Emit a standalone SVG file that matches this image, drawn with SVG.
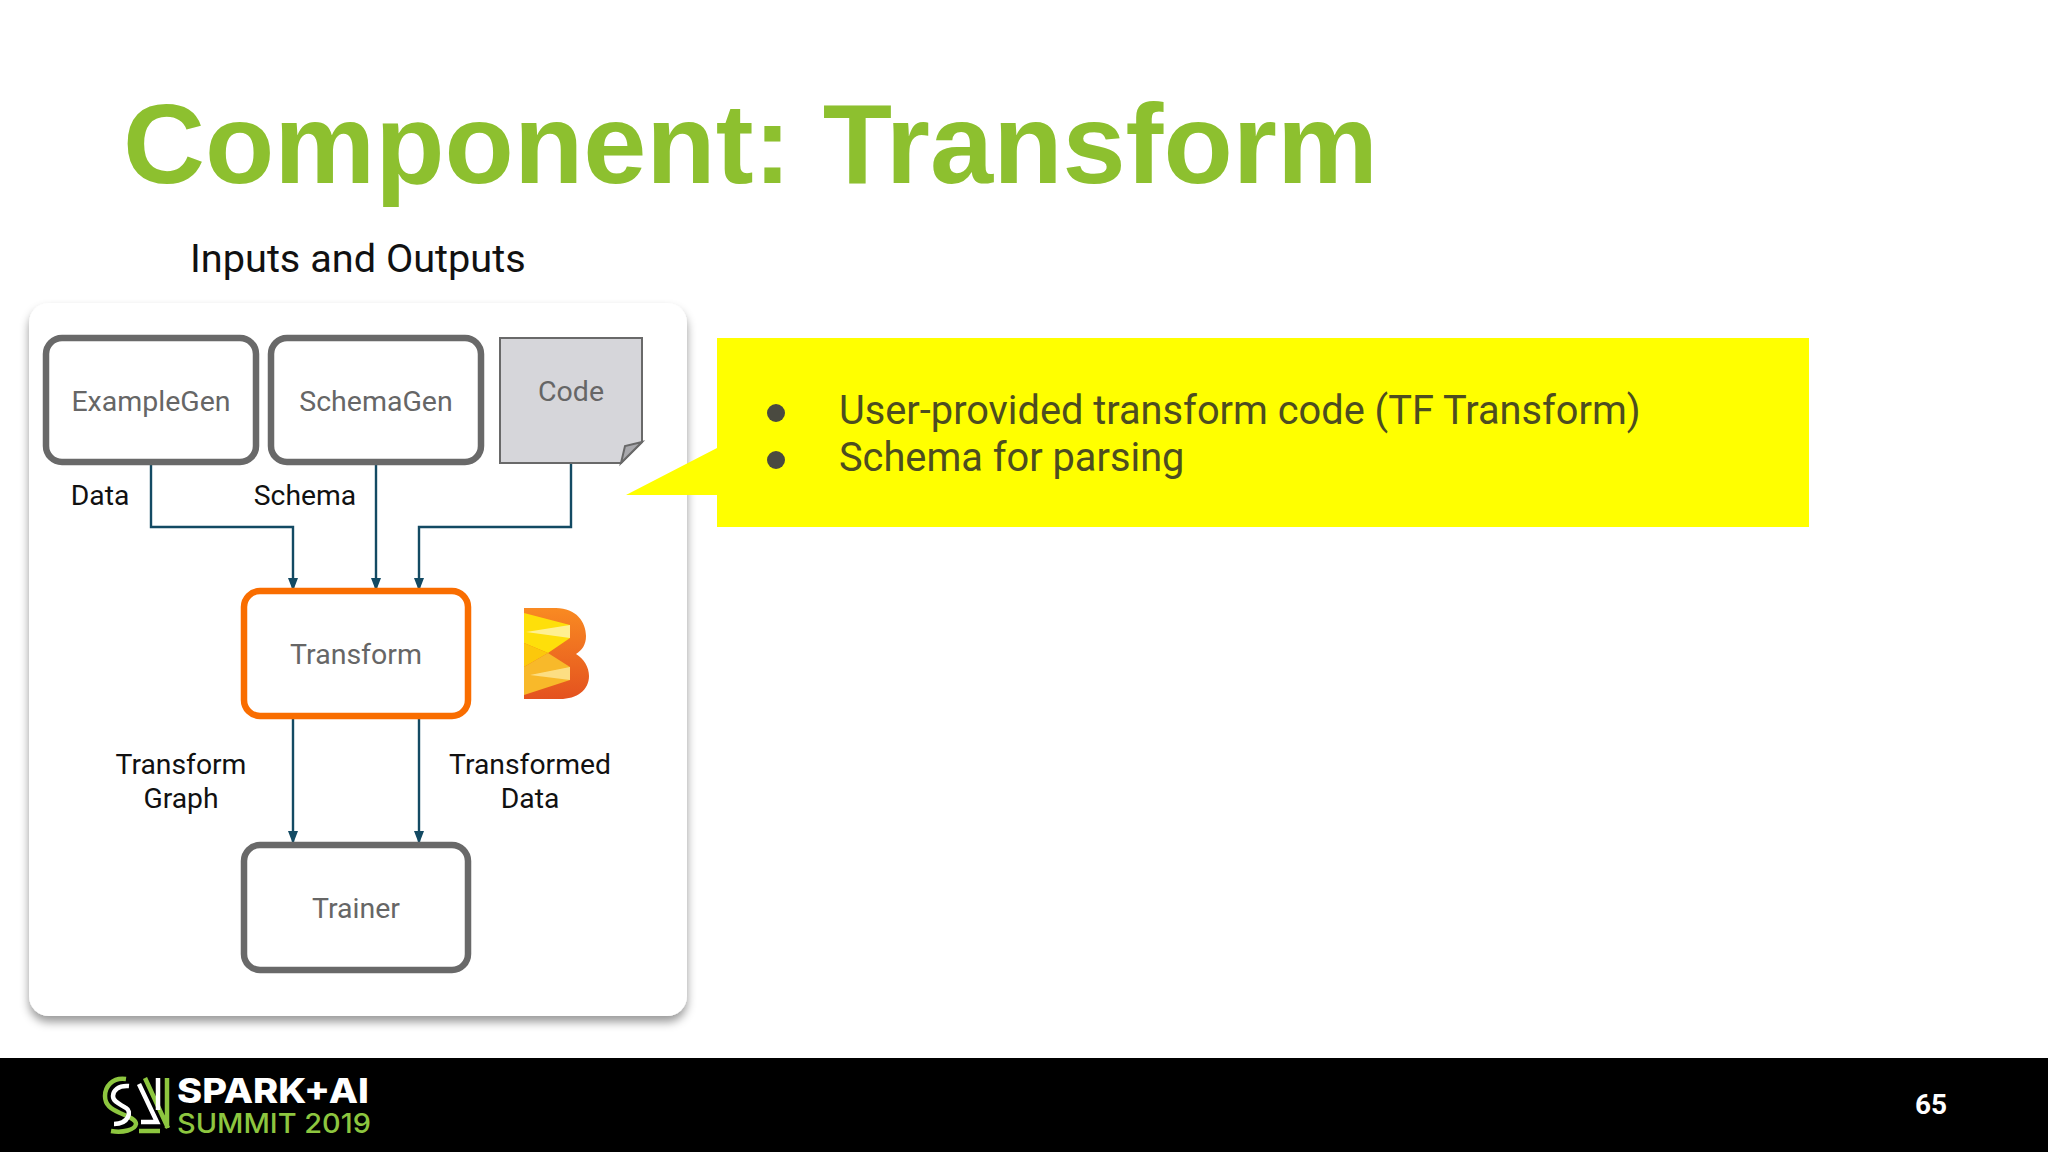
<svg xmlns="http://www.w3.org/2000/svg" width="2048" height="1152" viewBox="0 0 2048 1152">
<style>
text{font-family:Roboto,"Liberation Sans",sans-serif}
.box{fill:#fff;stroke:#696969;stroke-width:6.5}
.nl{font-size:28.5px;fill:#666;text-anchor:middle}
.lb{font-size:28.3px;fill:#111;text-anchor:middle}
.cn{fill:none;stroke:#134a63;stroke-width:2.4}
.logo{font-family:Inter,"Liberation Sans",sans-serif}
</style>
<defs>
<filter id="sh" x="-5%" y="-5%" width="110%" height="110%"><feDropShadow dx="0" dy="6" stdDeviation="5" flood-color="#000" flood-opacity=".4"/></filter>
<linearGradient id="lo" x1="0" y1="0" x2="0" y2="1"><stop offset="0" stop-color="#f98a22"/><stop offset="1" stop-color="#e4521f"/></linearGradient>
</defs>
<rect width="2048" height="1152" fill="#fff"/>
<text x="123" y="183" font-size="113.5" font-weight="700" fill="#8dc02f" style="font-family:'Liberation Sans',Arial,sans-serif">Component: Transform</text>
<text x="190" y="272" font-size="39.7" fill="#111">Inputs and Outputs</text>
<rect id="panel" x="29" y="303" width="658" height="713" rx="20" fill="#fff" filter="url(#sh)"/>
<g id="connectors">
<path class="cn" d="M151 465V527H293V590"/>
<path class="cn" d="M376 465V590"/>
<path class="cn" d="M571 463V527H419V590"/>
<path class="cn" d="M293 719V842"/>
<path class="cn" d="M419 719V842"/>
<path d="M288 578H298L293 591ZM371 578H381L376 591ZM414 578H424L419 591ZM288 831H298L293 844ZM414 831H424L419 844Z" fill="#134a63"/>
</g>
<g id="examplegen"><rect class="box" x="46" y="338" width="210" height="124" rx="16"/><text class="nl" x="151" y="411">ExampleGen</text></g>
<g id="schemagen"><rect class="box" x="271" y="338" width="210" height="124" rx="16"/><text class="nl" x="376" y="411">SchemaGen</text></g>
<g id="code"><path d="M500 338H642V442L621 463H500Z" fill="#d6d6da" stroke="#696969" stroke-width="2"/><path d="M642 442L625 446L621 463Z" fill="#a9a9ad" stroke="#696969" stroke-width="2"/><text class="nl" x="571" y="401">Code</text></g>
<g id="transform"><rect x="244" y="591" width="224" height="125" rx="16" fill="#fff" stroke="#f96d00" stroke-width="6.5"/><text class="nl" x="356" y="664">Transform</text></g>
<g id="trainer"><rect class="box" x="244" y="845" width="224" height="125" rx="16"/><text class="nl" x="356" y="918">Trainer</text></g>
<g id="labels">
<text class="lb" x="100" y="505">Data</text>
<text class="lb" x="305" y="505">Schema</text>
<text class="lb" x="181" y="774">Transform</text>
<text class="lb" x="181" y="808">Graph</text>
<text class="lb" x="530" y="774">Transformed</text>
<text class="lb" x="530" y="808">Data</text>
</g>
<g id="beam-logo">
<path d="M524 608H556C576 608 586 622 586 636C586 645 582 650 576 654C584 659 589 667 589 676C589 690 577 699 560 699H524Z" fill="url(#lo)"/>
<path d="M524 613L570 625V638L548 653L524 643Z" fill="#fedf0a"/>
<path d="M524 643L548 653L524 667Z" fill="#fcc80b"/>
<path d="M524 667L548 653L570 667V680L524 695Z" fill="#f8b92a"/>
<path d="M526 632L570 625V638Z" fill="#fff3a8" opacity=".85"/>
<path d="M530 675L570 667V680Z" fill="#fde493" opacity=".85"/>
</g>
<g id="callout">
<path d="M717 338H1809V527H717V495H626L717 448Z" fill="#ffff00"/>
<circle cx="776" cy="413" r="9" fill="#4a4a40"/>
<circle cx="776" cy="460" r="9" fill="#4a4a40"/>
<text x="839" y="424" font-size="39.75" fill="#4d4d20">User-provided transform code (TF Transform)</text>
<text x="839" y="471" font-size="39.75" fill="#4d4d20">Schema for parsing</text>
</g>
<g id="footer">
<rect y="1058" width="2048" height="94" fill="#000"/>
<g fill="none" stroke-width="4.5">
<path d="M126 1079C112 1077 105 1087 105 1096C105 1105 111 1109 120 1113C130 1117 136 1120 136 1124C135 1130 123 1133 111 1131" stroke="#8dc63f"/>
<path d="M129 1086C118 1085 113 1091 113 1096C113 1102 120 1104 126 1108C132 1111 129 1124 114 1124" stroke="#fff"/>
<path d="M145 1078L168 1128M167 1078V1128M139 1131H160" stroke="#8dc63f"/>
<path d="M139 1084L157 1122H141M158 1078V1110" stroke="#fff"/>
</g>
<text class="logo" x="177" y="1103" font-size="34" font-weight="800" fill="#fff" textLength="192" lengthAdjust="spacingAndGlyphs">SPARK+AI</text>
<text class="logo" x="177" y="1133" font-size="27.5" font-weight="500" fill="#8dc63f" textLength="194" lengthAdjust="spacingAndGlyphs">SUMMIT 2019</text>
<text x="1931" y="1114" font-size="28" font-weight="700" fill="#fff" text-anchor="middle">65</text>
</g>
</svg>
